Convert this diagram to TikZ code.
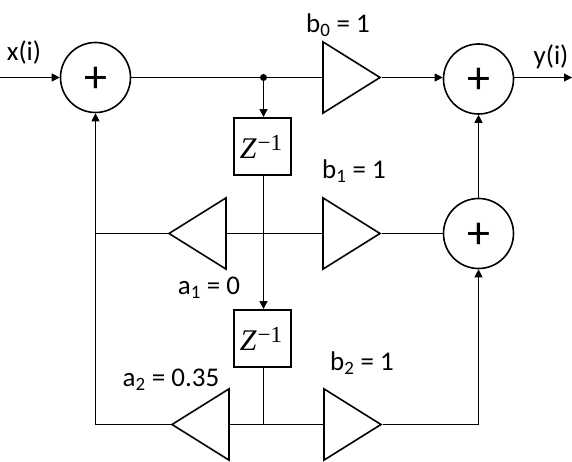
\documentclass[tikz,border=0pt]{standalone}
\usepackage{amsmath,amssymb}
\usepackage{fontspec}
\setmainfont{Carlito}
\newfontfamily\delayfont{Liberation Serif}
\usepackage{tikz}
\usetikzlibrary{arrows.meta,calc,shapes.geometric}

\newcommand{\plussign}{\raisebox{-15pt}[0pt][0pt]{\fontsize{46}{46}\selectfont +}}
\newcommand{\delaytext}{\kern-3pt{\delayfont\fontsize{30}{30}\selectfont\itshape Z\kern1pt\raisebox{8pt}{\upshape\fontsize{23}{23}\selectfont −1}}}

\begin{document}
\begin{tikzpicture}[x=1pt, y=-1pt, >={Triangle[length=8pt,width=8pt]}, line width=1pt,
    every node/.style={font=\fontsize{27}{30}\selectfont, align=center},
    sumnode/.style={draw, circle, line width=1.6pt, minimum size=70pt, inner sep=0pt},
    delaybox/.style={draw, line width=1.8pt, minimum size=57pt, inner sep=0pt},
    gainnode/.style={draw, isosceles triangle, isosceles triangle apex angle=64, line width=1.6pt,
        minimum height=57pt, inner sep=0pt, anchor=apex},
    labelnode/.style={inner sep=0pt}]
  \useasboundingbox (0,0) rectangle (572,462);

  \node[sumnode] (sum1) at (95.5,77.5) {\plussign};
  \node[sumnode] (sum2) at (478.5,79) {\plussign};
  \node[sumnode] (sum3) at (478.5,233.5) {\plussign};

  \node[delaybox] (delay1) at (262.5,146.5) {\delaytext};
  \node[delaybox] (delay2) at (262.5,338.5) {\delaytext};

  \node[gainnode, shape border rotate=0] (b0) at (381.5,77.5) {};
  \node[gainnode, shape border rotate=0] (b1) at (381.5,233.5) {};
  \node[gainnode, shape border rotate=0] (b2) at (382.5,424.5) {};
  \node[gainnode, shape border rotate=180] (a1) at (167.5,233.5) {};
  \node[gainnode, shape border rotate=180] (a2) at (170.5,424.5) {};

  \node[circle, fill, inner sep=0pt, minimum size=7pt] (tap) at (263.5,77.5) {};
  \coordinate (xin) at (0,77.5);
  \coordinate (yout) at (572,77.5);

  \node[labelnode] (xlabel) at (24,53) {x(i)};
  \node[labelnode] (ylabel) at (551,57) {y(i)};
  \node[labelnode] (b0label) at (338,25) {b\textsubscript{0} = 1};
  \node[labelnode] (b1label) at (354,171) {b\textsubscript{1} = 1};
  \node[labelnode] (b2label) at (362,363) {b\textsubscript{2} = 1};
  \node[labelnode] (a1label) at (209,288) {a\textsubscript{1} = 0};
  \node[labelnode] (a2label) at (171,380) {a\textsubscript{2} = 0.35};

  \draw[->] (xin) -- (sum1.west);
  \draw (sum1.east) -- (b0.lower side);
  \draw[->] (tap) -- (tap |- delay1.north);
  \draw[->] (tap |- delay1.south) -- (tap |- delay2.north);
  \draw (a1.lower side) -- (b1.lower side);
  \draw (tap |- delay2.south) -- (tap |- b2.lower side);
  \draw (a2.lower side) -- (b2.lower side);
  \draw[->] (a2.apex) -| (sum1.south);
  \draw (a1.apex) -- (a1.apex -| sum1.south);
  \draw[->] (b0.apex) -- (b0.apex -| sum2.west);
  \draw (b1.apex) -- (sum3.west);
  \draw[->] (b2.apex) -| (sum3.south);
  \draw[->] (sum3.north) -- (sum2.south);
  \draw[->] (sum2.east |- yout) -- (yout);
\end{tikzpicture}
\end{document}
